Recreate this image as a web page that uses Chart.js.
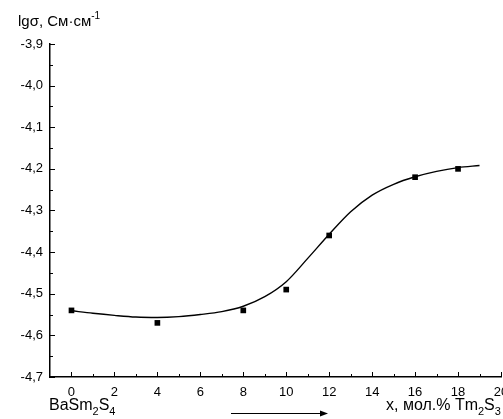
<!DOCTYPE html>
<html>
<head>
<meta charset="utf-8">
<script src="https://cdn.jsdelivr.net/npm/chart.js@4"></script>
<style>
  html, body { margin: 0; padding: 0; background: #fff; overflow: hidden; }
  #wrap { width: 540px; height: 419px; }
</style>
</head>
<body>
<div id="wrap"><canvas id="myChart" width="540" height="419"></canvas></div>
<script>
// measured conductivity, lg(sigma) vs mol.% Tm2S3
const molPercent = [0, 4, 8, 10, 12, 16, 18];
const lgSigma = [-4.54, -4.57, -4.54, -4.49, -4.36, -4.22, -4.20];

// smoothed trend line
const fitX = [0, 1, 2, 3, 4, 5, 6, 7, 8, 9, 10, 11, 12, 13, 14, 15, 16, 17, 18, 19];
const fitY = [-4.541, -4.547, -4.552, -4.556, -4.557, -4.555, -4.550, -4.543, -4.530, -4.507,
              -4.471, -4.415, -4.357, -4.303, -4.263, -4.237, -4.219, -4.206, -4.197, -4.192];

const xTickValues = [0, 2, 4, 6, 8, 10, 12, 14, 16, 18, 20];
const yTickValues = [-4.7, -4.6, -4.5, -4.4, -4.3, -4.2, -4.1, -4.0, -3.9];

const FONT = "'Liberation Sans', Arial, sans-serif";
Chart.defaults.font.family = FONT;
Chart.defaults.color = '#000';

// text with sub/superscripts, parts = [[text, 'sub'|'sup'|undefined], ...]
function richText(ctx, x, y, parts, size) {
    ctx.textBaseline = 'alphabetic';
    ctx.textAlign = 'left';
    for (const [t, mode] of parts) {
        const s = mode ? Math.round(size * 0.66) : size;
        ctx.font = s + 'px ' + FONT;
        let dy = 0;
        if (mode === 'sub') dy = size * 0.33;
        if (mode === 'sup') dy = -size * 0.45;
        ctx.fillText(t, x, y + dy);
        x += ctx.measureText(t).width;
    }
}

// inward major/minor ticks like the plotting package draws
const innerTicks = {
    id: 'innerTicks',
    afterDraw(chart) {
        const { ctx, scales: { x, y } } = chart;
        ctx.save();
        ctx.strokeStyle = '#000';
        ctx.lineWidth = 1;
        ctx.beginPath();
        xTickValues.forEach((v, i) => {
            const px = Math.round(x.getPixelForValue(v)) + 0.5;
            ctx.moveTo(px, x.top); ctx.lineTo(px, x.top - 5);
            if (i < xTickValues.length - 1) {
                const pm = Math.round(x.getPixelForValue(v + 1)) + 0.5;
                ctx.moveTo(pm, x.top); ctx.lineTo(pm, x.top - 3);
            }
        });
        yTickValues.forEach((v, i) => {
            const py = Math.round(y.getPixelForValue(v)) + 0.5;
            ctx.moveTo(y.right, py); ctx.lineTo(y.right + 5, py);
            if (i < yTickValues.length - 1) {
                const pm = Math.round(y.getPixelForValue(v + 0.05)) + 0.5;
                ctx.moveTo(y.right, pm); ctx.lineTo(y.right + 3, pm);
            }
        });
        ctx.stroke();
        ctx.restore();
    }
};

const labels = {
    id: 'labels',
    afterDraw(chart) {
        const ctx = chart.ctx;
        ctx.save();
        ctx.fillStyle = '#000';
        richText(ctx, 18, 26, [['lgσ, См·см'], ['-1', 'sup']], 15);
        richText(ctx, 49, 410, [['BaSm'], ['2', 'sub'], ['S'], ['4', 'sub']], 16);
        richText(ctx, 386, 410, [['x, мол.% Tm'], ['2', 'sub'], ['S'], ['3', 'sub']], 16);
        // composition arrow
        ctx.strokeStyle = '#000';
        ctx.lineWidth = 1;
        ctx.beginPath();
        ctx.moveTo(231, 413.5); ctx.lineTo(322, 413.5);
        ctx.stroke();
        ctx.beginPath();
        ctx.moveTo(328, 413.5); ctx.lineTo(320, 410.5); ctx.lineTo(320, 416.5);
        ctx.closePath();
        ctx.fill();
        ctx.restore();
    }
};

new Chart(document.getElementById('myChart'), {
    type: 'scatter',
    data: {
        datasets: [
            {
                label: 'fit',
                data: fitX.map((v, i) => ({ x: v, y: fitY[i] })),
                showLine: true,
                borderColor: '#000',
                borderWidth: 1.4,
                pointRadius: 0,
                cubicInterpolationMode: 'monotone'
            },
            {
                label: 'lg sigma',
                data: molPercent.map((v, i) => ({ x: v, y: lgSigma[i] })),
                showLine: false,
                pointStyle: 'rect',
                pointRadius: 4,
                backgroundColor: '#000',
                borderColor: '#000',
                borderWidth: 0
            }
        ]
    },
    options: {
        responsive: false,
        animation: false,
        layout: { padding: { top: 44, right: 39, left: 0, bottom: 0 } },
        plugins: { legend: { display: false }, tooltip: { enabled: false } },
        scales: {
            x: {
                type: 'linear',
                min: -1,
                max: 20,
                afterBuildTicks: s => { s.ticks = xTickValues.map(v => ({ value: v })); },
                afterFit: s => { s.height = 42; },
                grid: { drawOnChartArea: false, drawTicks: false },
                border: { color: '#000', width: 1.5 },
                ticks: { padding: 8, font: { size: 13 }, maxRotation: 0, autoSkip: false }
            },
            y: {
                min: -4.7,
                max: -3.9,
                afterBuildTicks: s => { s.ticks = yTickValues.map(v => ({ value: v })); },
                afterFit: s => { s.width = 50; },
                grid: { drawOnChartArea: false, drawTicks: false },
                border: { color: '#000', width: 1.5 },
                ticks: {
                    padding: 7,
                    font: { size: 13 },
                    callback: v => v.toFixed(1).replace('.', ',')
                }
            }
        }
    },
    plugins: [innerTicks, labels]
});
</script>
</body>
</html>
